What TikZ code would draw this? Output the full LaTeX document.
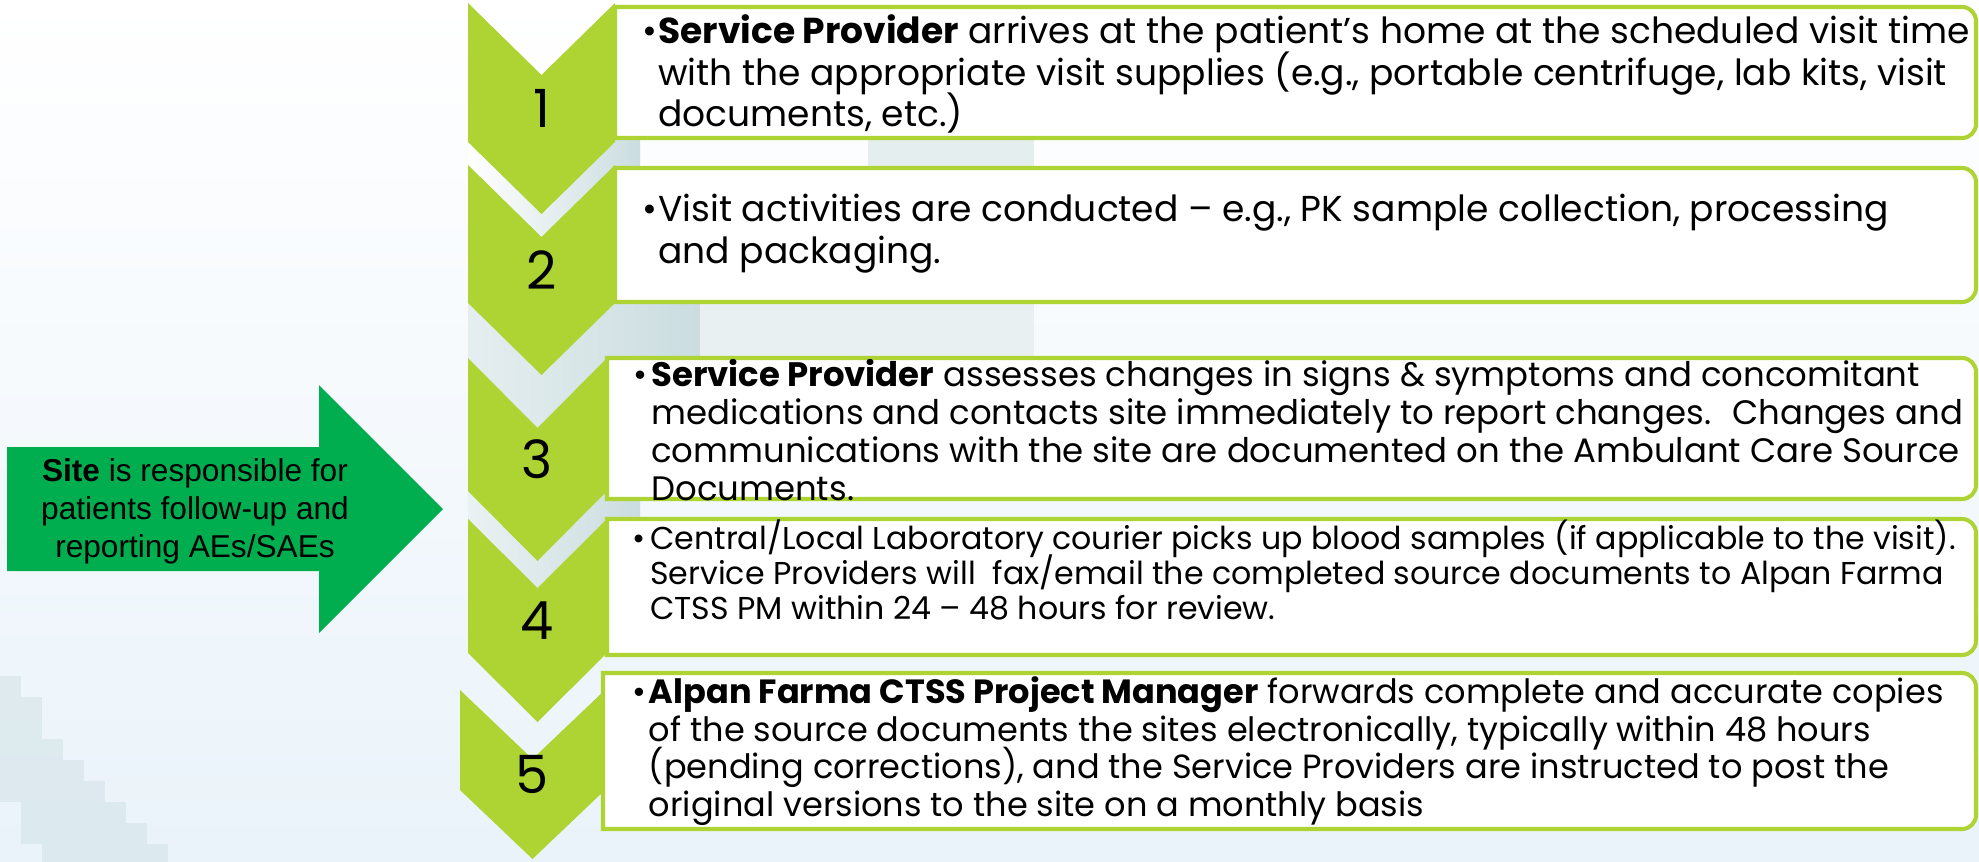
\documentclass[tikz,border=0pt]{standalone}
\usepackage{fontspec}
\setmainfont{Poppins}
\newfontfamily\arialfont{Liberation Sans}
\usetikzlibrary{positioning}
\definecolor{chevgreen}{RGB}{173,212,51}
\definecolor{arrowgreen}{RGB}{0,174,79}
\definecolor{bgblue}{RGB}{234,243,250}
\definecolor{shadowblue}{RGB}{203,221,224}
% bullet line with hanging indent
\newcommand{\bulletpar}[2]{\parbox{28cm}{\lineskiplimit=-30pt\relax\hangindent=#1\relax\hangafter=1\relax\makebox[#1][l]{\textbullet}#2}}

\begin{document}
\begin{tikzpicture}[line cap=round,line join=round,x=0.02cm,y=-0.02cm,
  chev/.style={fill=chevgreen},
  boxline/.style={draw=chevgreen,line width=2.3pt,line join=miter,fill=white},
  num/.style={inner sep=0pt,font=\fontsize{30}{32}\selectfont},
  steptext/.style={anchor=west,inner sep=0pt},
  sitetext/.style={align=center,inner sep=0pt,font=\arialfont\fontsize{18}{21.6}\selectfont}]
\useasboundingbox (0,0) rectangle (1979,862);
\shade[top color=white,bottom color=bgblue] (0,0) rectangle (1979,862);
% pale squares behind the steps
\shade[left color=white,right color=shadowblue] (468,138) rectangle (640,245);
\fill[shadowblue!50] (868,138) rectangle (1034,168);
\shade[left color=shadowblue!50,right color=shadowblue] (468,300) rectangle (700,430);
\fill[shadowblue!45] (700,302) rectangle (1034,358);
\shade[left color=shadowblue!40,right color=shadowblue] (468,490) rectangle (640,590);
\foreach \r/\cmin/\cmax in {0/0/0,1/0/1,2/0/1,3/0/2,4/0/3,5/0/4,6/1/5,7/1/6,8/2/7}
\foreach \c in {\cmin,...,\cmax}
\fill[shadowblue,opacity=0.45] (\c*21,676+\r*21) rectangle ++(21,21);
% arrow on the left
\fill[arrowgreen] (7,447) -- (319,447) -- (319,385) -- (443,509) -- (319,633) -- (319,571) -- (7,571) -- cycle;
\node[sitetext] (site) at (195,511) {\textbf{Site} is responsible for\\patients follow-up and\\reporting AEs/SAEs};
% chevrons
\foreach \xl/\xr/\yt/\yb/\d/\n in {468/615/3/142/72/1,468/615/165/303/72/2,468/607/358/491/70/3,468/607/519/653/69/4,460/605/690/790/69/5}
{
\fill[chev] (\xl,\yt) -- ({(\xl+\xr)/2},\yt+\d) -- (\xr,\yt) -- (\xr,\yb) -- ({(\xl+\xr)/2},\yb+\d) -- (\xl,\yb) -- cycle;
\node[num] (n\n) at ({(\xl+\xr)/2},{\yt+(\d+\yb-\yt)/2}) {\n};
}
% boxes
\foreach \xl/\yt/\yb in {615/7/138,615/168/302,607/358/499,607/519/655,603/673/829}
\draw[boxline] (\xl,\yt) -- (1962,\yt) arc[start angle=-90,end angle=0,radius=14] -- (1976,\yb-14) arc[start angle=0,end angle=90,radius=14] -- (\xl,\yb) -- cycle;
% texts
\node[steptext,font=\fontsize{20.5}{23.4}\selectfont] (s1) at (642,74) {\bulletpar{0.32cm}{\textbf{Service Provider} arrives at the patient’s home at the scheduled visit time\newline with the appropriate visit supplies (e.g., portable centrifuge, lab kits, visit\newline documents, etc.)}};
\node[steptext,font=\fontsize{20.5}{23.8}\selectfont] (s2) at (642,234) {\bulletpar{0.32cm}{Visit activities are conducted – e.g., PK sample collection, processing\newline and packaging.}};
\node[steptext,font=\fontsize{19.3}{21.5}\selectfont] (s3) at (633,430) {\bulletpar{0.36cm}{\textbf{Service Provider} assesses changes in signs \& symptoms and concomitant\newline medications and contacts site immediately to report changes.~ Changes and\newline communications with the site are documented on the Ambulant Care Source\newline Documents.}};
\node[steptext,font=\fontsize{18}{19.9}\selectfont] (s4) at (632,570) {\bulletpar{0.36cm}{Central/Local Laboratory courier picks up blood samples (if applicable to the visit).\newline Service Providers will~ fax/email the completed source documents to Alpan Farma\newline CTSS PM within 24 – 48 hours for review.}};
\node[steptext,font=\fontsize{19.1}{21.4}\selectfont] (s5) at (632,751) {\bulletpar{0.33cm}{\textbf{Alpan Farma CTSS Project Manager} forwards complete and accurate copies\newline of the source documents the sites electronically, typically within 48 hours\newline (pending corrections), and the Service Providers are instructed to post the\newline original versions to the site on a monthly basis}};
\end{tikzpicture}
\end{document}
